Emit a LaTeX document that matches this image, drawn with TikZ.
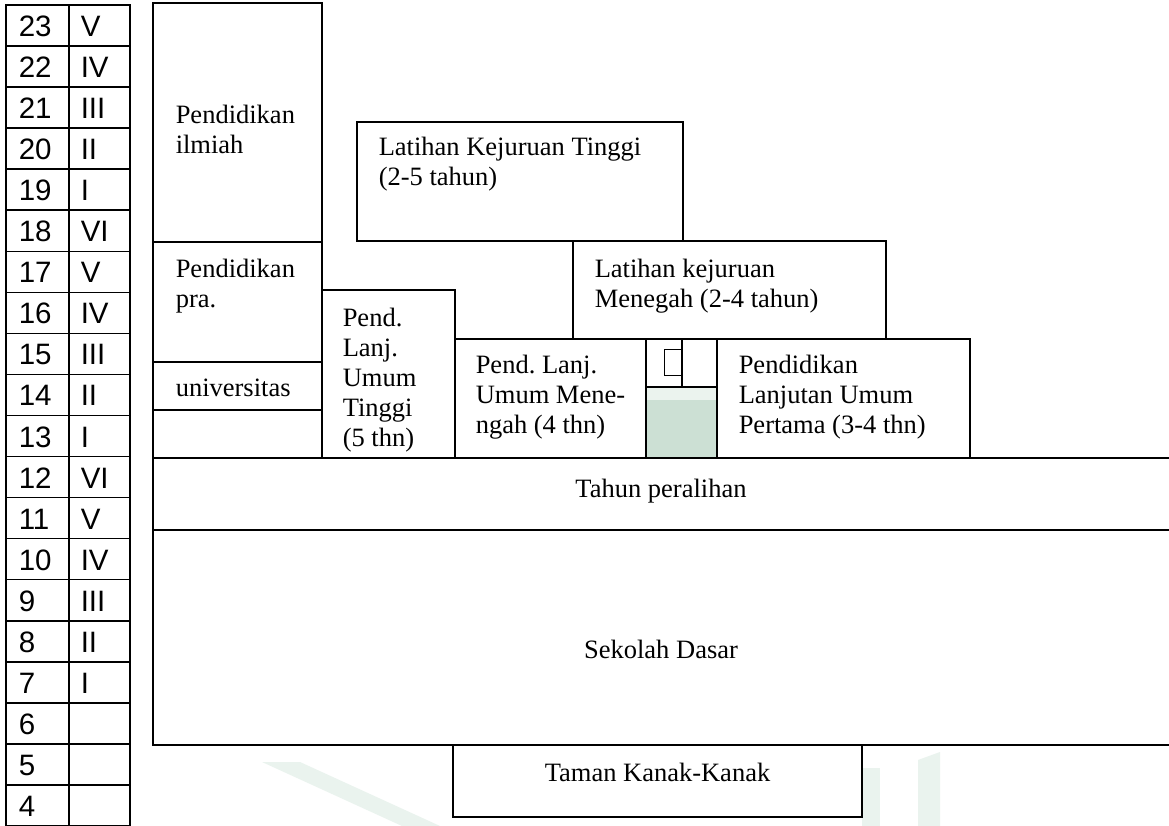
\documentclass[tikz,border=0pt]{standalone}
\usepackage{fontspec}
\setmainfont{Liberation Serif}
\newfontfamily\tabfont{Liberation Sans}
\definecolor{wm}{HTML}{EAF3EE}
\definecolor{wmgreen}{HTML}{CCE0D4}
\frenchspacing
\begin{document}
\begin{tikzpicture}[x=1pt,y=-1pt,
  line width=1.5pt,
  frame/.style={draw=black, line width=1.5pt},
  thinframe/.style={draw=black, line width=1pt},
  lbl/.style={anchor=base west, inner sep=0pt, font=\fontsize{26.5}{30}\selectfont},
  clbl/.style={anchor=base, inner sep=0pt, font=\fontsize{26.5}{30}\selectfont},
  tlbl/.style={anchor=base west, inner sep=0pt, font=\tabfont\fontsize{29.5}{32}\selectfont}]
\useasboundingbox (0,0) rectangle (1169,826);
\fill[white] (0,0) rectangle (1169,826);

% faint watermark
\fill[wm] (262,762) -- (300,762) -- (440,826) -- (402,826) -- cycle;
\fill[wm] (862,768) -- (880,768) -- (880,826) -- (862,826) -- cycle;
\fill[wm] (918,760) -- (940,752) -- (940,826) -- (918,826) -- cycle;

% left age / grade table
\foreach \k [evaluate=\k as \ya using 5+41.05*\k] in {0,...,19}{
  \draw[frame] (6,\ya) rectangle (69,\ya+41.05);
  \draw[frame] (69,\ya) rectangle (130,\ya+41.05);
}
\foreach \k/\n/\r in {0/23/V,1/22/IV,2/21/III,3/20/II,4/19/I,5/18/VI,6/17/V,7/16/IV,8/15/III,9/14/II,10/13/I,11/12/VI,12/11/V,13/10/IV,14/9/III,15/8/II,16/7/I,17/6/,18/5/,19/4/}{
  \node[tlbl] (age\n) at (18,{5+41.05*\k+20.5+11}) {\n};
  \node[tlbl] (grade\n) at (80,{5+41.05*\k+20.5+11}) {\r};
}

% green fill of small column
\fill[wmgreen] (647,388) rectangle (716,457);
\fill[white!60!wmgreen] (647,388) rectangle (716,400);

% higher education boxes
\draw[frame] (153,3) rectangle (322,242);
\node[lbl] (ilm1) at (175,124) {Pendidikan};
\node[lbl] (ilm2) at (175,154) {ilmiah};

\draw[frame] (153,242) rectangle (322,362);
\node[lbl] (pra1) at (175,277) {Pendidikan};
\node[lbl] (pra2) at (175,307) {pra.};

\draw[frame] (153,362) rectangle (322,410);
\node[lbl] (univ) at (175,396) {universitas};

\draw[frame] (153,410) rectangle (322,458);

% Pend. Lanj. Umum Tinggi
\begin{scope}
\clip (323,291) rectangle (454,456);
\node[lbl] (plut1) at (342,326) {Pend.};
\node[lbl] (plut2) at (342,356) {Lanj.};
\node[lbl] (plut3) at (342,386) {Umum};
\node[lbl] (plut4) at (342,416) {Tinggi};
\node[lbl] (plut5) at (342,446) {(5 thn)};
\end{scope}
\draw[frame] (322,290) rectangle (455,458);

% Pend. Lanj. Umum Menengah
\draw[frame] (455,339) rectangle (646,458);
\node[lbl] (plum1) at (475,373) {Pend. Lanj.};
\node[lbl] (plum2) at (475,403) {Umum Mene-};
\node[lbl] (plum3) at (475,433) {ngah (4 thn)};

% small column
\draw[frame] (646,339) rectangle (717,458);
\draw[frame] (646,387) -- (717,387);
\draw[frame] (682,339) -- (682,387);
\draw[thinframe] (664,349) rectangle (682,375);

% Pendidikan Lanjutan Umum Pertama
\draw[frame] (717,339) rectangle (970,458);
\node[lbl] (plup1) at (738,373) {Pendidikan};
\node[lbl] (plup2) at (738,403) {Lanjutan Umum};
\node[lbl] (plup3) at (738,433) {Pertama (3-4 thn)};

% Latihan Kejuruan Tinggi
\draw[frame] (357,122) rectangle (683,241);
\node[lbl] (lkt1) at (378,156) {Latihan Kejuruan Tinggi};
\node[lbl] (lkt2) at (378,186) {(2-5 tahun)};

% Latihan kejuruan Menegah
\draw[frame] (573,241) rectangle (886,339);
\node[lbl] (lkm1) at (594,277) {Latihan kejuruan};
\node[lbl] (lkm2) at (594,307) {Menegah (2-4 tahun)};

% Tahun peralihan
\draw[frame] (1170,458) -- (153,458) -- (153,530) -- (1170,530);
\node[clbl] (tp) at (661,497) {Tahun peralihan};

% Sekolah Dasar
\draw[frame] (1170,530) -- (153,530) -- (153,745) -- (1170,745);
\node[clbl] (sd) at (661,658) {Sekolah Dasar};

% Taman Kanak-Kanak
\draw[frame] (453,745) rectangle (862,817);
\node[clbl] (tk) at (657.5,781) {Taman Kanak-Kanak};
\end{tikzpicture}
\end{document}
